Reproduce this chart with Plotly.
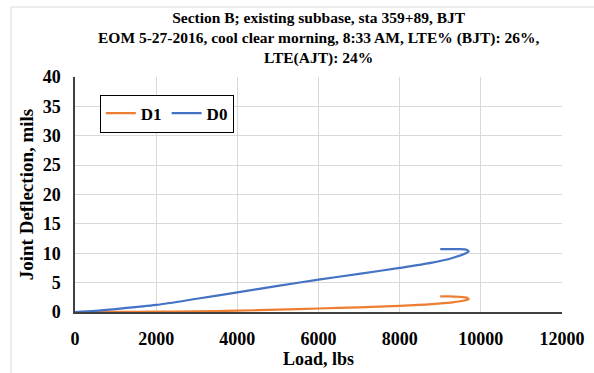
import plotly.graph_objects as go

# Data
load_d0 = [0, 500, 1000, 2000, 3000, 4000, 5000, 6000, 7000, 8000, 8800, 9300, 9600, 9700, 9650, 9450, 9200, 9000]
defl_d0 = [0, 0.2, 0.5, 1.2, 2.25, 3.35, 4.45, 5.5, 6.5, 7.5, 8.4, 9.2, 9.9, 10.3, 10.6, 10.7, 10.7, 10.7]

load_d1 = [0, 1000, 2000, 3000, 4000, 5000, 6000, 7000, 8000, 8800, 9300, 9600, 9700, 9650, 9450, 9200, 9000]
defl_d1 = [0, 0.02, 0.06, 0.12, 0.22, 0.4, 0.6, 0.8, 1.05, 1.35, 1.65, 1.95, 2.2, 2.45, 2.6, 2.65, 2.65]

title_lines = ["Section B; existing subbase, sta 359+89, BJT",
               "EOM 5-27-2016, cool clear morning, 8:33 AM, LTE% (BJT): 26%,",
               "LTE(AJT): 24%"]

FONT = "Liberation Serif"


def bold(size):
    return dict(family=FONT, size=size, color="black", weight="bold")


fig = go.Figure()
fig.add_trace(go.Scatter(x=load_d1, y=defl_d1, mode="lines", name="D1",
                         line=dict(color="#ED7D31", width=2.2, shape="spline", smoothing=0.8)))
fig.add_trace(go.Scatter(x=load_d0, y=defl_d0, mode="lines", name="D0",
                         line=dict(color="#4472C4", width=2.2, shape="spline", smoothing=0.8)))

fig.update_layout(
    width=594, height=373,
    margin=dict(l=75, r=32, t=77, b=61, autoexpand=False),
    paper_bgcolor="white", plot_bgcolor="white",
    font=dict(family=FONT, color="black"),
    showlegend=True,
    legend=dict(orientation="h", x=0.051, y=0.925, xanchor="left", yanchor="top",
                bgcolor="white", bordercolor="black", borderwidth=1,
                font=bold(17), itemwidth=30, tracegroupgap=0),
    xaxis=dict(range=[0, 12000], dtick=2000, tick0=0, automargin=False,
               showgrid=True, gridcolor="#d9d9d9", gridwidth=1,
               showline=True, linecolor="#404040", linewidth=2,
               zeroline=False, ticks="", tickformat="d", ticklabelstandoff=9,
               tickfont=bold(18),
               title=dict(text="Load, lbs", font=bold(18), standoff=4)),
    yaxis=dict(range=[0, 40], dtick=5, tick0=0, automargin=False,
               showgrid=True, gridcolor="#d9d9d9", gridwidth=1,
               showline=True, linecolor="#404040", linewidth=1.5,
               zeroline=False, ticks="", ticklabelstandoff=9,
               tickfont=bold(18),
               title=dict(text="Joint Deflection, mils", font=bold(19), standoff=4)),
)

fig.add_annotation(text="<br>".join(title_lines), xref="paper", yref="paper",
                   x=(318 - 75) / 487, y=(312 - 38) / 235, xanchor="center", yanchor="middle",
                   showarrow=False, align="center",
                   font=bold(15.5))

# outer chart-area border (light gray)
fig.add_shape(type="rect", xref="paper", yref="paper",
              x0=(11 - 75) / 487, x1=(620 - 75) / 487,
              y0=(312 - 400) / 235, y1=(312 - 7) / 235,
              line=dict(color="#d9d9d9", width=1), fillcolor="rgba(0,0,0,0)", layer="below")

fig.write_html("out.html", config={"displayModeBar": False},
               post_script="document.body.style.margin='0px';")
